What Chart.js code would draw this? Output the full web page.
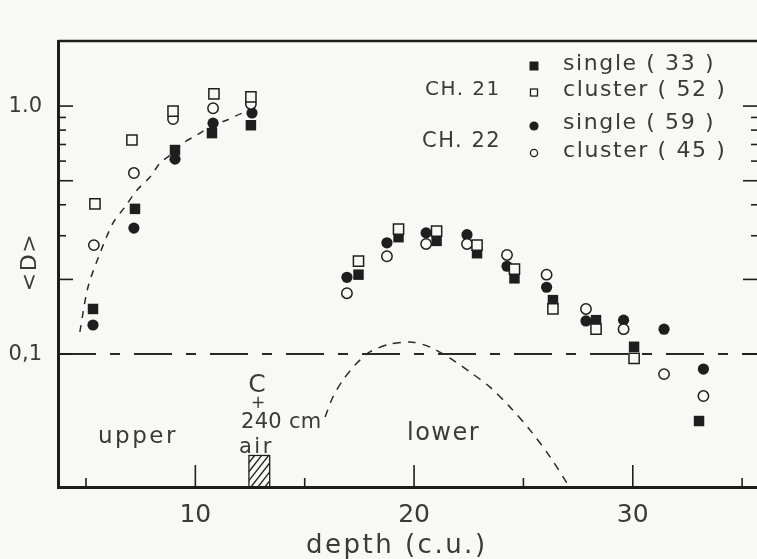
<!DOCTYPE html>
<html><head><meta charset="utf-8">
<script src="https://cdn.jsdelivr.net/npm/chart.js@4.4.1/dist/chart.umd.min.js"></script>
<style>html,body{margin:0;padding:0;background:#f8f8f6;} canvas{display:block}</style>
</head><body>
<canvas id="c" width="757" height="559"></canvas>
<script>
// ---------- data ----------
const ch21SingleX = [5.32, 7.24, 9.07, 10.76, 12.54, 17.46, 19.29, 21.03, 22.88, 24.59, 26.35, 28.32, 30.06, 33.03];
const ch21SingleY = [0.152, 0.385, 0.665, 0.778, 0.837, 0.209, 0.296, 0.286, 0.255, 0.202, 0.165, 0.137, 0.107, 0.0537];
const ch21ClusterX = [5.41, 7.10, 8.98, 10.85, 12.54, 17.46, 19.29, 21.03, 22.88, 24.59, 26.35, 28.32, 30.06];
const ch21ClusterY = [0.403, 0.73, 0.955, 1.12, 1.09, 0.237, 0.319, 0.313, 0.275, 0.220, 0.152, 0.126, 0.096];
const ch22SingleX = [5.32, 7.19, 9.07, 10.81, 12.59, 16.93, 18.76, 20.55, 22.42, 24.25, 26.06, 27.86, 29.58, 31.43, 33.23];
const ch22SingleY = [0.131, 0.322, 0.611, 0.853, 0.938, 0.204, 0.281, 0.308, 0.303, 0.226, 0.186, 0.136, 0.137, 0.126, 0.087];
const ch22ClusterX = [5.36, 7.19, 8.98, 10.81, 12.54, 16.93, 18.76, 20.55, 22.42, 24.25, 26.06, 27.86, 29.58, 31.43, 33.23];
const ch22ClusterY = [0.275, 0.537, 0.887, 0.98, 1.02, 0.176, 0.248, 0.278, 0.278, 0.251, 0.209, 0.152, 0.126, 0.083, 0.0677];

const upperCurveX = [4.72, 5.09, 5.64, 6.23, 6.78, 7.33, 7.93, 8.38, 8.84, 9.43, 10.07, 10.67, 11.45, 12.18, 12.59];
const upperCurveY = [0.123, 0.186, 0.255, 0.337, 0.392, 0.458, 0.518, 0.589, 0.634, 0.709, 0.764, 0.823, 0.879, 0.938, 0.94];
const lowerCurveX = [15.93, 16.29, 16.75, 17.39, 17.98, 18.90, 19.91, 20.73, 21.64, 22.56, 23.47, 24.39, 25.30, 26.22, 26.99];
const lowerCurveY = [0.0557, 0.0671, 0.0786, 0.092, 0.102, 0.1097, 0.1117, 0.1067, 0.0963, 0.0846, 0.0736, 0.0611, 0.0494, 0.0385, 0.0302];
const levelX = [3.72, 35.68];
const levelY = [0.1, 0.1];

const absorberX = [12.45, 13.4];
const absorberTop = 0.039;

const xTickValues = [5, 10, 15, 20, 25, 30, 35];
const xLabelValues = [10, 20, 30];
const yTickValues = [0.1, 0.2, 0.3, 0.4, 0.5, 0.6, 0.7, 0.8, 0.9, 1.0];
const yMajorTicks = [0.1, 0.2, 0.5, 1.0];
const yLabels = {"0.1": "0,1", "1": "1.0"};

const legendRows = ["single ( 33 )", "cluster ( 52 )", "single ( 59 )", "cluster ( 45 )"];
const groupLabels = ["CH. 21", "CH. 22"];

// ---------- style ----------
const FONT = "'DejaVu Sans', 'Liberation Sans', sans-serif";
const BG = '#f8f8f6';
const INK = '#1e1e1e';
const TXT = '#3a3a3a';

const pts = (xs, ys) => xs.map((x, i) => ({x, y: ys[i]}));

Chart.defaults.font.family = FONT;
Chart.defaults.color = TXT;

const inkPlugin = {
  id: 'ink',
  beforeDraw(chart) {
    const {ctx, width, height} = chart;
    ctx.save(); ctx.fillStyle = BG; ctx.fillRect(0, 0, width, height); ctx.restore();
  },
  afterDraw(chart) {
    const {ctx, chartArea: a, scales: {x, y}} = chart;
    const line = (x1, y1, x2, y2) => { ctx.beginPath(); ctx.moveTo(x1, y1); ctx.lineTo(x2, y2); ctx.stroke(); };
    ctx.save();
    ctx.strokeStyle = INK; ctx.lineWidth = 1.6;
    yTickValues.forEach(v => {
      const py = y.getPixelForValue(v);
      const major = yMajorTicks.includes(v);
      line(a.left, py, a.left + (major ? 15 : 8), py);
      line(a.right, py, a.right - (major ? 14 : 6), py);
    });
    xTickValues.forEach(v => {
      const px = x.getPixelForValue(v);
      const major = xLabelValues.includes(v);
      line(px, a.bottom, px, a.bottom - (major ? 22 : 9));
    });
    ctx.lineWidth = 2.5;
    line(a.left, a.top, a.right, a.top);

    // absorber (hatched)
    const bx1 = x.getPixelForValue(absorberX[0]), bx2 = x.getPixelForValue(absorberX[1]);
    const by = y.getPixelForValue(absorberTop), bb = a.bottom;
    ctx.lineWidth = 1.3;
    ctx.strokeRect(bx1, by, bx2 - bx1, bb - by);
    ctx.save();
    ctx.beginPath(); ctx.rect(bx1, by, bx2 - bx1, bb - by); ctx.clip();
    for (let k = -40; k < 60; k += 7) {
      line(bx1 + k, bb, bx1 + k + 25, bb - 32);
    }
    ctx.restore();

    // texts
    const text = (s, px, py, size, ls, align = 'left', base = 'alphabetic') => {
      ctx.font = `${size}px ${FONT}`;
      ctx.letterSpacing = `${ls}px`;
      ctx.textAlign = align; ctx.textBaseline = base;
      ctx.fillStyle = TXT;
      ctx.fillText(s, px, py);
    };
    text('depth (c.u.)', 306, 553, 26, 2.5);
    ctx.save();
    ctx.translate(30, 262); ctx.rotate(-Math.PI / 2);
    text('<D>', 0, 0, 22, 1.5, 'center', 'middle');
    ctx.restore();

    text('upper', 98, 443, 23, 2.5);
    text('C', 257, 392, 25, 0, 'center');
    text('+', 258, 408, 17, 0, 'center');
    text('240 cm', 241, 428, 21, 0.3);
    text('air', 239, 453, 21, 2.5);
    text('lower', 407, 440, 24, 1.5);

    // legend
    text(groupLabels[0], 425, 95, 20, 1.5);
    text(groupLabels[1], 422, 147, 21, 1.5);
    const rowY = [64, 90, 123, 151];
    legendRows.forEach((s, i) => text(s, 563, rowY[i], 22, 1.6, 'left', 'middle'));
    const mx = 534;
    ctx.fillStyle = INK; ctx.strokeStyle = INK; ctx.lineWidth = 1.3;
    ctx.fillRect(mx - 4.5, rowY[0] - 2.5, 9, 9);
    ctx.fillStyle = BG;
    ctx.fillRect(mx - 3.5, rowY[1] - 1, 7, 7); ctx.strokeRect(mx - 3.5, rowY[1] - 1, 7, 7);
    ctx.fillStyle = INK;
    ctx.beginPath(); ctx.arc(mx, rowY[2] + 3, 4.6, 0, Math.PI * 2); ctx.fill();
    ctx.beginPath(); ctx.arc(mx, rowY[3] + 2, 3.6, 0, Math.PI * 2); ctx.stroke();
    ctx.restore();
  }
};

new Chart(document.getElementById('c'), {
  type: 'scatter',
  data: {
    datasets: [
      {label: 'CH.21 cluster', data: pts(ch21ClusterX, ch21ClusterY), pointStyle: 'rect', pointRadius: 7.2,
       backgroundColor: BG, borderColor: INK, borderWidth: 1.5, order: 1},
      {label: 'CH.22 cluster', data: pts(ch22ClusterX, ch22ClusterY), pointStyle: 'circle', pointRadius: 5.2,
       backgroundColor: BG, borderColor: INK, borderWidth: 1.5, order: 2},
      {label: 'CH.21 single', data: pts(ch21SingleX, ch21SingleY), pointStyle: 'rect', pointRadius: 7.4,
       backgroundColor: INK, borderColor: INK, borderWidth: 0, order: 3},
      {label: 'CH.22 single', data: pts(ch22SingleX, ch22SingleY), pointStyle: 'circle', pointRadius: 5.6,
       backgroundColor: INK, borderColor: INK, borderWidth: 0, order: 4},
      {label: 'upper fit', data: pts(upperCurveX, upperCurveY), showLine: true, pointRadius: 0,
       borderColor: '#2a2a2a', borderWidth: 1.5, borderDash: [7, 7], tension: 0.3, order: 5},
      {label: 'lower fit', data: pts(lowerCurveX, lowerCurveY), showLine: true, pointRadius: 0,
       borderColor: '#2a2a2a', borderWidth: 1.5, borderDash: [8, 7], tension: 0.3, order: 6},
      {label: 'level', data: pts(levelX, levelY), showLine: true, pointRadius: 0,
       borderColor: '#2a2a2a', borderWidth: 2, borderDash: [38, 14, 10, 14], order: 7}
    ]
  },
  options: {
    responsive: false, animation: false, devicePixelRatio: 1,
    layout: {autoPadding: false, padding: {top: 41, right: 0, left: 0, bottom: 0}},
    plugins: {legend: {display: false}, tooltip: {enabled: false}},
    scales: {
      x: {
        type: 'linear', min: 3.72, max: 35.68,
        afterBuildTicks: s => { s.ticks = xTickValues.map(v => ({value: v})); },
        afterFit: s => { s.height = 72; s.paddingLeft = 0; s.paddingRight = 0; },
        grid: {display: false},
        border: {display: true, width: 3, color: INK},
        ticks: {autoSkip: false, maxRotation: 0, padding: 5, color: TXT,
          font: {size: 25, family: FONT},
          callback: v => xLabelValues.includes(v) ? String(v) : ''}
      },
      y: {
        type: 'logarithmic', min: 0.0291, max: 1.83,
        afterBuildTicks: s => { s.ticks = yTickValues.map(v => ({value: v})); },
        afterFit: s => { s.width = 58; s.paddingTop = 0; s.paddingBottom = 0; },
        grid: {display: false},
        border: {display: true, width: 3, color: INK},
        ticks: {autoSkip: false, padding: 8, color: TXT,
          font: {size: 21, family: FONT},
          callback: v => yLabels[String(v)] || ''}
      }
    }
  },
  plugins: [inkPlugin]
});
</script>
</body></html>
